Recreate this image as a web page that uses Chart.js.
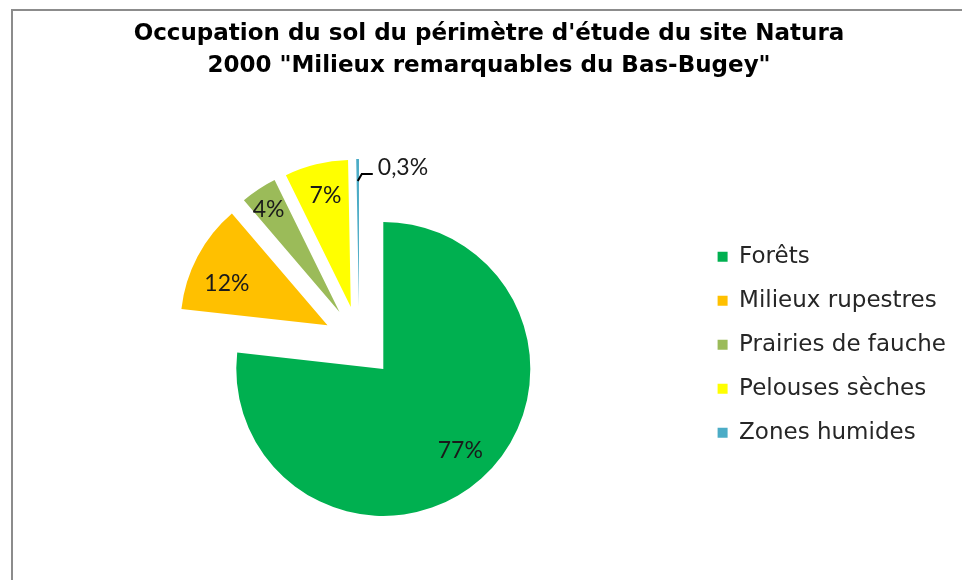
<!DOCTYPE html>
<html>
<head>
<meta charset="utf-8">
<script src="https://cdn.jsdelivr.net/npm/chart.js@4/dist/chart.umd.min.js"></script>
<style>
  html, body { margin: 0; padding: 0; background: #fff; width: 962px; height: 580px; overflow: hidden; }
  #frame { position: absolute; left: 11px; top: 9px; width: 1000px; height: 700px; border-left: 2px solid #8c8c8c; border-top: 2px solid #8c8c8c; }
  #wrap { position: absolute; left: 0; top: 0; width: 962px; height: 580px; }
</style>
</head>
<body>
<div id="frame"></div>
<div id="wrap"><canvas id="c" width="962" height="580"></canvas></div>
<script>
const categories = ["Forêts", "Milieux rupestres", "Prairies de fauche", "Pelouses sèches", "Zones humides"];
const values = [77, 12, 4, 7, 0.3];
const valueLabels = ["77%", "12%", "4%", "7%", "0,3%"];
const colors = ["#00B050", "#FFC000", "#9BBB59", "#FFFF00", "#4BACC6"];
const titleLines = ["Occupation du sol du périmètre d'étude du site Natura", "2000 \"Milieux remarquables du Bas-Bugey\""];

// style: explosion distance and label placement (fraction of radius, angular nudge in degrees)
const EXPLODE = 36;
const LABEL_RADIUS = [0.765, 0.74, 0.85, 0.775];
const LABEL_ANGLE_SHIFT = [-1.4, -5.5, -1.2, 0.8];

const explodePlugin = {
  id: 'explode',
  beforeDatasetDraw(chart, args) {
    const ctx = chart.ctx;
    args.meta.data.forEach((arc) => {
      const mid = (arc.startAngle + arc.endAngle) / 2;
      ctx.save();
      ctx.translate(Math.cos(mid) * EXPLODE, Math.sin(mid) * EXPLODE);
      arc.draw(ctx);
      ctx.restore();
    });
    return false;
  }
};

const labelPlugin = {
  id: 'sliceLabels',
  afterDatasetsDraw(chart) {
    const ctx = chart.ctx;
    const meta = chart.getDatasetMeta(0);
    ctx.save();
    ctx.font = '23px Lato, sans-serif';
    ctx.fillStyle = '#1a1a1a';
    ctx.textBaseline = 'middle';
    meta.data.forEach((arc, i) => {
      const mid = (arc.startAngle + arc.endAngle) / 2;
      const cx = arc.x + Math.cos(mid) * EXPLODE;
      const cy = arc.y + Math.sin(mid) * EXPLODE;
      const r = arc.outerRadius;
      if (i === 4) {
        const ox = cx + Math.cos(mid) * (r - 22);
        const oy = cy + Math.sin(mid) * (r - 22);
        ctx.strokeStyle = '#000';
        ctx.lineWidth = 2;
        ctx.beginPath();
        ctx.moveTo(ox, oy);
        ctx.lineTo(ox + 4, oy - 7);
        ctx.lineTo(ox + 15, oy - 7);
        ctx.stroke();
        ctx.textAlign = 'left';
        ctx.fillText(valueLabels[i], ox + 20, oy - 13);
      } else {
        const a = mid + LABEL_ANGLE_SHIFT[i] * Math.PI / 180;
        const d = r * LABEL_RADIUS[i];
        ctx.textAlign = 'center';
        ctx.fillText(valueLabels[i], cx + Math.cos(a) * d, cy + Math.sin(a) * d);
      }
    });
    ctx.restore();
  }
};

new Chart(document.getElementById('c'), {
  type: 'pie',
  data: {
    labels: categories,
    datasets: [{
      data: values,
      backgroundColor: colors,
      borderWidth: 0,
      radius: 147
    }]
  },
  options: {
    responsive: false,
    animation: false,
    layout: { padding: { left: 22, right: 6, top: 0, bottom: 0 } },
    plugins: {
      title: {
        display: true,
        text: titleLines,
        color: '#000',
        font: { family: '"DejaVu Sans", sans-serif', size: 23, weight: 'bold', lineHeight: 1.35 },
        padding: { top: 19, bottom: 23 }
      },
      legend: {
        position: 'right',
        align: 'center',
        title: { display: true, text: '', font: { size: 12 }, padding: { top: 95, bottom: 0 } },
        labels: {
          color: '#262626',
          font: { family: '"DejaVu Sans", sans-serif', size: 23 },
          boxWidth: 10,
          boxHeight: 10,
          padding: 21
        }
      },
      tooltip: { enabled: false }
    }
  },
  plugins: [explodePlugin, labelPlugin]
});
</script>
</body>
</html>
